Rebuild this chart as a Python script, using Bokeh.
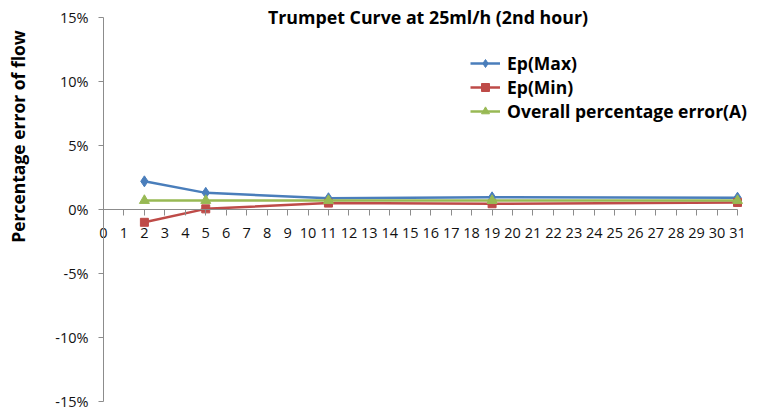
from bokeh.plotting import figure
from bokeh.models import (ColumnDataSource, Range1d, LinearAxis, FixedTicker,
                          PrintfTickFormatter, Label, Legend, LegendItem)
from bokeh.embed import file_html
from bokeh.resources import INLINE

# ---- data ----
hours = [2, 5, 11, 19, 31]
ep_max = [2.2, 1.3, 0.88, 0.95, 0.92]
ep_min = [-1.0, 0.05, 0.5, 0.45, 0.55]
overall = [0.7, 0.7, 0.7, 0.7, 0.7]
x_ticks = list(range(0, 32))
y_ticks = [-15, -10, -5, 0, 5, 10, 15]
title_text = "Trumpet Curve at 25ml/h (2nd hour)"
y_label = "Percentage error of flow"
series_names = ["Ep(Max)", "Ep(Min)", "Overall percentage error(A)"]

FONT = "Open Sans"
AXIS_COLOR = "#8c8c8c"

# pixel geometry of the chart area (axis 0..31 spans 103..737 px,
# -15..15 % spans 401..17 px in a 757x413 canvas)
W, H = 757, 413
PX_X = (737 - 103) / 31.0
PX_Y = (401 - 17) / 30.0
x_lo = -103 / PX_X
x_hi = 31 + (W - 737) / PX_X
y_hi = 15 + 17 / PX_Y
y_lo = -15 - (H - 401) / PX_Y

p = figure(width=W, height=H, output_backend="svg", toolbar_location=None,
           x_range=Range1d(x_lo, x_hi), y_range=Range1d(y_lo, y_hi),
           x_axis_location=None, y_axis_location=None,
           min_border=0, min_border_left=0, min_border_right=0,
           min_border_top=0, min_border_bottom=0)
p.outline_line_color = None
p.xgrid.visible = False
p.ygrid.visible = False
p.background_fill_color = "white"
p.border_fill_color = "white"

# y axis at x = 0
yax = LinearAxis(ticker=FixedTicker(ticks=y_ticks),
                 formatter=PrintfTickFormatter(format="%d%%"),
                 fixed_location=0, bounds=(-15, 15))
yax.axis_line_color = AXIS_COLOR
yax.major_tick_line_color = AXIS_COLOR
yax.major_tick_out = 5
yax.major_tick_in = 0
yax.minor_tick_line_color = None
yax.major_label_text_font = FONT
yax.major_label_text_font_size = "14.5px"
yax.major_label_text_color = "#111111"
yax.major_label_standoff = 10
p.add_layout(yax, "left")

# x axis crossing at 0%
xax = LinearAxis(ticker=FixedTicker(ticks=x_ticks), fixed_location=0,
                 bounds=(0, 31))
xax.axis_line_color = AXIS_COLOR
xax.major_tick_line_color = AXIS_COLOR
xax.major_tick_out = 6
xax.major_tick_in = 0
xax.minor_tick_line_color = None
xax.major_label_text_font = FONT
xax.major_label_text_font_size = "14.5px"
xax.major_label_text_color = "#111111"
xax.major_label_standoff = 12
p.add_layout(xax, "below")

colors = ["#4A7EBB", "#BE4B48", "#98B954"]
src = ColumnDataSource(dict(x=hours, mx=ep_max, mn=ep_min, ov=overall))

l1 = p.line("x", "mx", source=src, line_color=colors[0], line_width=2.5)
m1 = p.scatter("x", "mx", source=src, marker="diamond", size=11,
               fill_color=colors[0], line_color=colors[0])
l2 = p.line("x", "mn", source=src, line_color=colors[1], line_width=2.5)
m2 = p.scatter("x", "mn", source=src, marker="square", size=8,
               fill_color=colors[1], line_color=colors[1])
l3 = p.line("x", "ov", source=src, line_color=colors[2], line_width=2.5)
m3 = p.scatter("x", "ov", source=src, marker="triangle", size=10,
               fill_color=colors[2], line_color=colors[2])

legend = Legend(items=[LegendItem(label=series_names[0], renderers=[l1, m1]),
                       LegendItem(label=series_names[1], renderers=[l2, m2]),
                       LegendItem(label=series_names[2], renderers=[l3, m3])],
                location=(470, 290))
legend.border_line_color = None
legend.background_fill_alpha = 0
legend.padding = 0
legend.margin = 0
legend.spacing = 0
legend.glyph_width = 30
legend.glyph_height = 20
legend.label_height = 20
legend.label_standoff = 7
legend.label_text_font = FONT
legend.label_text_font_style = "bold"
legend.label_text_font_size = "17.5px"
legend.label_text_color = "black"
p.add_layout(legend, "center")

title = Label(x=(427.5 - 103) / PX_X, y=15 + 1 / PX_Y, text=title_text,
              text_font=FONT, text_font_style="bold", text_font_size="17.8px",
              text_align="center", text_baseline="middle", text_color="black")
p.add_layout(title)

ylab = Label(x=(17 - 103) / PX_X, y=(209 - 136) / PX_Y, text=y_label,
             text_font=FONT, text_font_style="bold", text_font_size="17.5px",
             angle=90, angle_units="deg",
             text_align="center", text_baseline="middle", text_color="black")
p.add_layout(ylab)

open("out.html", "w").write(file_html(p, INLINE))
